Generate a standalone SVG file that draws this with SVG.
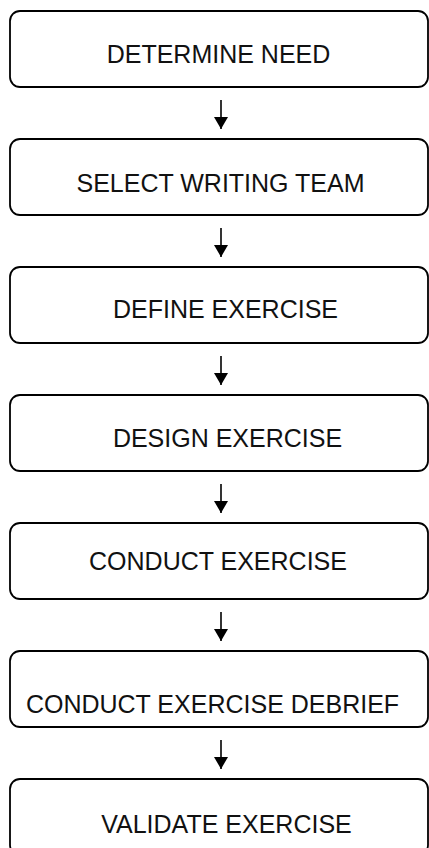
<svg xmlns="http://www.w3.org/2000/svg" width="429" height="848" viewBox="0 0 429 848">
  <style>
    .box { fill: #ffffff; stroke: #000000; stroke-width: 1.8; }
    .label { font-family: "Liberation Sans", Arial, sans-serif; font-size: 25px; fill: #111111; text-anchor: middle; }
    .link { stroke: #000000; stroke-width: 1.6; fill: none; marker-end: url(#head); }
  </style>
  <defs>
    <!-- filled triangular arrowhead, tip at the line end -->
    <marker id="head" viewBox="0 0 12 14" refX="12" refY="7" markerWidth="12" markerHeight="14" markerUnits="userSpaceOnUse" orient="auto">
      <path d="M0,0 L12,7 L0,14 Z" fill="#000000"/>
    </marker>
  </defs>
  <rect width="429" height="848" fill="#ffffff"/>

  <g id="connectors">
    <line class="link" x1="221" y1="100" x2="221" y2="129"/>
    <line class="link" x1="221" y1="228" x2="221" y2="257"/>
    <line class="link" x1="221" y1="356" x2="221" y2="385"/>
    <line class="link" x1="221" y1="484" x2="221" y2="513"/>
    <line class="link" x1="221" y1="612" x2="221" y2="641"/>
    <line class="link" x1="221" y1="740" x2="221" y2="769"/>
  </g>

  <g id="determine-need">
    <rect class="box" x="10" y="11" width="418" height="76" rx="10"/>
    <text class="label" x="218.5" y="63">DETERMINE NEED</text>
  </g>
  <g id="select-writing-team">
    <rect class="box" x="10" y="139" width="418" height="76" rx="10"/>
    <text class="label" x="220.5" y="192">SELECT WRITING TEAM</text>
  </g>
  <g id="define-exercise">
    <rect class="box" x="10" y="267" width="418" height="76" rx="10"/>
    <text class="label" x="225.5" y="318">DEFINE EXERCISE</text>
  </g>
  <g id="design-exercise">
    <rect class="box" x="10" y="395" width="418" height="76" rx="10"/>
    <text class="label" x="227.5" y="447">DESIGN EXERCISE</text>
  </g>
  <g id="conduct-exercise">
    <rect class="box" x="10" y="523" width="418" height="76" rx="10"/>
    <text class="label" x="218" y="570">CONDUCT EXERCISE</text>
  </g>
  <g id="conduct-exercise-debrief">
    <rect class="box" x="10" y="651" width="418" height="76" rx="10"/>
    <text class="label" x="212.5" y="713">CONDUCT EXERCISE DEBRIEF</text>
  </g>
  <g id="validate-exercise">
    <rect class="box" x="10" y="779" width="418" height="76" rx="10"/>
    <text class="label" x="226.5" y="833">VALIDATE EXERCISE</text>
  </g>
</svg>
